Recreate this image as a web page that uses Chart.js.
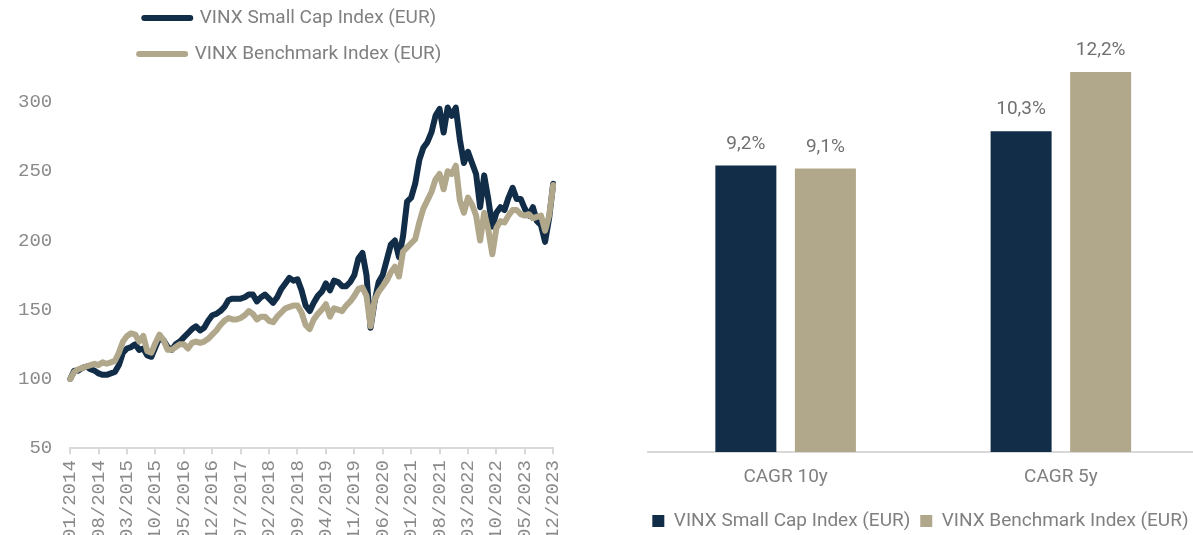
<!DOCTYPE html>
<html>
<head>
<meta charset="utf-8">
<script src="https://cdn.jsdelivr.net/npm/chart.js@4.4.0/dist/chart.umd.min.js"></script>
<style>
  html, body { margin: 0; padding: 0; background: #fff; overflow: hidden; }
  #left { position: absolute; left: 0; top: 0; width: 582px; height: 550px; }
  #right { position: absolute; left: 600px; top: 0; width: 600px; height: 535px; }
</style>
</head>
<body>
<div id="left"><canvas id="lineChart"></canvas></div>
<div id="right"><canvas id="barChart"></canvas></div>
<script>
const seriesNames = ['VINX Small Cap Index (EUR)', 'VINX Benchmark Index (EUR)']

// monthly index levels, 01/2014 - 12/2023
const smallCap = [
  100, 106, 106, 108, 109, 107, 106, 104, 103, 103, 104, 105,
  110, 119, 122, 123, 125, 121, 122, 117, 116, 123, 130, 128,
  123, 121, 125, 127, 130, 133, 136, 138, 135, 137, 142, 146,
  147, 149, 152, 157, 158, 158, 158, 159, 161, 161, 156, 159,
  161, 158, 155, 159, 165, 169, 173, 171, 172, 164, 153, 149,
  155, 160, 163, 169, 164, 171, 170, 167, 167, 170, 175, 187,
  191, 175, 137, 156, 170, 175, 186, 197, 200, 188, 203, 228,
  231, 241, 258, 267, 271, 278, 290, 295, 278, 296, 290, 296,
  273, 256, 264, 256, 248, 224, 247, 230, 210, 220, 224, 222,
  231, 238, 230, 230, 223, 218, 224, 214, 211, 199, 216, 241
]
const benchmark = [
  100, 105, 107, 108, 109, 110, 111, 110, 112, 111, 112, 113,
  119, 127, 131, 133, 132, 127, 131, 120, 119, 126, 132, 128,
  121, 121, 123, 125, 125, 122, 126, 127, 126, 127, 129, 132,
  135, 139, 142, 144, 143, 143, 144, 146, 149, 147, 143, 145,
  145, 142, 141, 145, 148, 151, 152, 153, 153, 148, 139, 136,
  143, 147, 150, 154, 145, 151, 150, 149, 153, 156, 160, 165,
  166, 160, 138, 157, 163, 167, 171, 177, 181, 174, 192, 195,
  198, 201, 213, 223, 229, 235, 244, 248, 237, 250, 248, 254,
  229, 220, 231, 226, 218, 200, 220, 208, 190, 209, 214, 213,
  218, 222, 222, 219, 218, 219, 216, 217, 218, 207, 218, 240
]
const tickLabels = ['01/2014', '08/2014', '03/2015', '10/2015', '05/2016', '12/2016',
  '07/2017', '02/2018', '09/2018', '04/2019', '11/2019', '06/2020', '01/2021',
  '08/2021', '03/2022', '10/2022', '05/2023', '12/2023']

const cagrCategories = ['CAGR 10y', 'CAGR 5y']
const cagrSmallCap = [9.2, 10.3]
const cagrBenchmark = [9.1, 12.2]

const navy = '#122d47'
const beige = '#b1a78b'
const grey = '#808080'

let months = []
for (let i = 0; i < smallCap.length; i++) {
  let m = i % 12 + 1
  months.push((m < 10 ? '0' : '') + m + '/' + (2014 + Math.floor(i / 12)))
}

Chart.defaults.font.family = 'Roboto'
Chart.defaults.color = grey

// pushes the plot area down below the legend
function legendSpacer(extra) {
  return {
    id: 'legendSpacer',
    beforeInit(chart) {
      const fit = chart.legend.fit
      chart.legend.fit = function () {
        fit.call(this)
        this.height += extra
      }
    }
  }
}

const barValueLabels = {
  id: 'barValueLabels',
  afterDatasetsDraw(chart) {
    const ctx = chart.ctx
    ctx.save()
    ctx.font = '19px Roboto'
    ctx.fillStyle = '#707070'
    ctx.textAlign = 'center'
    ctx.textBaseline = 'bottom'
    chart.data.datasets.forEach((ds, i) => {
      chart.getDatasetMeta(i).data.forEach((bar, j) => {
        ctx.fillText(ds.data[j].toFixed(1).replace('.', ',') + '%', bar.x, bar.y - 12)
      })
    })
    ctx.restore()
  }
}

let lineCtx = document.getElementById('lineChart').getContext('2d')
let lineChart = new Chart(lineCtx, {
  type: 'line',
  data: {
    labels: months,
    datasets: [{
      label: seriesNames[0],
      data: smallCap,
      borderColor: navy,
      backgroundColor: navy,
      borderWidth: 6,
      pointRadius: 0,
      borderJoinStyle: 'round',
      borderCapStyle: 'round',
      order: 1
    }, {
      label: seriesNames[1],
      data: benchmark,
      borderColor: beige,
      backgroundColor: beige,
      borderWidth: 6,
      pointRadius: 0,
      borderJoinStyle: 'round',
      borderCapStyle: 'round',
      order: 0
    }]
  },
  options: {
    responsive: true,
    maintainAspectRatio: false,
    animation: false,
    layout: { padding: { top: -8.5, left: 0, right: 1.5, bottom: 4 } },
    plugins: {
      legend: {
        position: 'top',
        labels: {
          boxWidth: 46,
          boxHeight: 0,
          padding: 17,
          color: grey,
          font: { size: 19 },
          sort: (a, b) => a.datasetIndex - b.datasetIndex
        }
      },
      tooltip: { enabled: false }
    },
    scales: {
      x: {
        grid: { display: true, drawOnChartArea: false, drawTicks: true, tickLength: 6, color: '#d9d9d9', lineWidth: 2 },
        border: { color: '#d9d9d9', width: 2 },
        ticks: {
          autoSkip: false,
          minRotation: 90,
          maxRotation: 90,
          padding: 6,
          color: '#8a8a8a',
          font: { family: 'Liberation Mono', size: 19 },
          callback: function (value) {
            let label = this.getLabelForValue(value)
            return tickLabels.includes(label) ? label : null
          }
        }
      },
      y: {
        min: 50,
        max: 300,
        grid: { display: false, drawTicks: false },
        border: { display: false },
        ticks: {
          stepSize: 50,
          padding: 18,
          color: '#8a8a8a',
          font: { family: 'Liberation Mono', size: 19 }
        }
      }
    }
  },
  plugins: [legendSpacer(28.5)]
})

let barCtx = document.getElementById('barChart').getContext('2d')
let barChart = new Chart(barCtx, {
  type: 'bar',
  data: {
    labels: cagrCategories,
    datasets: [{
      label: seriesNames[0],
      data: cagrSmallCap,
      backgroundColor: navy
    }, {
      label: seriesNames[1],
      data: cagrBenchmark,
      backgroundColor: beige
    }]
  },
  options: {
    responsive: true,
    maintainAspectRatio: false,
    animation: false,
    categoryPercentage: 0.578,
    barPercentage: 0.767,
    layout: { padding: { top: 16, left: 0, right: 1.5, bottom: -5.5 } },
    plugins: {
      legend: {
        position: 'bottom',
        align: 'end',
        labels: { boxWidth: 12, boxHeight: 12, padding: 10, color: grey, font: { size: 19 } }
      },
      tooltip: { enabled: false }
    },
    scales: {
      x: {
        grid: { display: false, drawTicks: false },
        border: { color: '#d9d9d9', width: 2 },
        ticks: { padding: 14, color: grey, font: { size: 19 } },
        afterFit: s => { s.height = 49.5 }
      },
      y: {
        min: 0,
        max: 14,
        grid: { display: false, drawTicks: false },
        border: { display: false },
        ticks: { display: false },
        afterFit: s => { s.width = 48 }
      }
    }
  },
  plugins: [barValueLabels]
})
</script>
</body>
</html>
